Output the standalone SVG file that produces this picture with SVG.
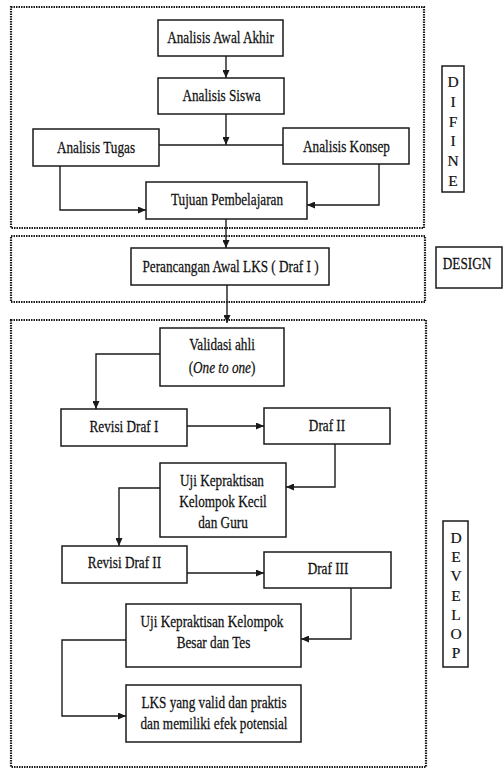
<svg xmlns="http://www.w3.org/2000/svg" width="504" height="769" viewBox="0 0 504 769">
<style>
  .bg { fill: #ffffff; }
  .sec { fill: none; stroke: #1a1a1a; stroke-width: 2.2; stroke-dasharray: 1.5 1; }
  .box { fill: #ffffff; stroke: #1a1a1a; stroke-width: 1.5; }
  .lbl { fill: none; stroke: #1a1a1a; stroke-width: 1.5; }
  .t { font-family: "Liberation Serif", "DejaVu Serif", serif; font-size: 16.5px; fill: #111111; stroke: #111111; stroke-width: 0.25; text-anchor: middle; }
  .v { font-family: "Liberation Serif", "DejaVu Serif", serif; font-size: 15.5px; fill: #111111; stroke: #111111; stroke-width: 0.2; text-anchor: middle; }
  .c { fill: none; stroke: #1a1a1a; stroke-width: 1.4; }
  .ca { fill: none; stroke: #1a1a1a; stroke-width: 1.4; marker-end: url(#arr); }
</style>
<defs>
  <marker id="arr" markerUnits="userSpaceOnUse" markerWidth="8" markerHeight="7" refX="8" refY="3.5" orient="auto">
    <path d="M0,0 L8,3.5 L0,7 z" fill="#1a1a1a"/>
  </marker>
</defs>
<rect class="bg" x="0" y="0" width="504" height="769"/>

<g id="sections">
  <rect id="sec-define" class="sec" x="11" y="7" width="413" height="221"/>
  <rect id="sec-design" class="sec" x="11" y="236" width="414" height="66"/>
  <rect id="sec-develop" class="sec" x="11" y="320" width="415" height="447"/>
</g>

<g id="connectors">
  <path class="ca" d="M226,56 V78"/>
  <path class="ca" d="M226,114 V145"/>
  <path class="c" d="M159,145 H283"/>
  <path class="ca" d="M60,166 V210 H146"/>
  <path class="ca" d="M379,164 V205 H307"/>
  <path class="ca" d="M226,219 V248"/>
  <path class="ca" d="M227,285 V323"/>
  <path class="ca" d="M160,354 H96 V409"/>
  <path class="ca" d="M187,426 H264"/>
  <path class="ca" d="M335,444 V487 H286"/>
  <path class="ca" d="M160,488 H119 V546"/>
  <path class="ca" d="M187,573 H264"/>
  <path class="ca" d="M351,588 V639 H301"/>
  <path class="ca" d="M126,640 H62 V716 H126"/>
</g>

<g id="analisis-awal-akhir">
  <rect class="box" x="158" y="20" width="125" height="36"/>
  <text class="t" transform="translate(220.5,43) scale(0.8,1)">Analisis Awal Akhir</text>
</g>
<g id="analisis-siswa">
  <rect class="box" x="158" y="78" width="126" height="36"/>
  <text class="t" transform="translate(221.5,101) scale(0.8,1)">Analisis Siswa</text>
</g>
<g id="analisis-tugas">
  <rect class="box" x="33" y="129" width="126" height="37"/>
  <text class="t" transform="translate(96,153) scale(0.8,1)">Analisis Tugas</text>
</g>
<g id="analisis-konsep">
  <rect class="box" x="283" y="128" width="126" height="36"/>
  <text class="t" transform="translate(346.5,152) scale(0.8,1)">Analisis Konsep</text>
</g>
<g id="tujuan-pembelajaran">
  <rect class="box" x="146" y="182" width="161" height="37"/>
  <text class="t" transform="translate(227,205) scale(0.8,1)">Tujuan Pembelajaran</text>
</g>
<g id="difine-label">
  <rect class="lbl" x="442" y="66" width="22" height="126"/>
  <text class="v" x="453" y="87">D</text>
  <text class="v" x="453" y="107">I</text>
  <text class="v" x="453" y="127">F</text>
  <text class="v" x="453" y="146">I</text>
  <text class="v" x="453" y="166">N</text>
  <text class="v" x="453" y="186">E</text>
</g>

<g id="perancangan-awal-lks">
  <rect class="box" x="131" y="248" width="198" height="37"/>
  <text class="t" transform="translate(230.5,272) scale(0.8,1)">Perancangan Awal LKS ( Draf I )</text>
</g>
<g id="design-label">
  <rect class="lbl" x="436" y="247" width="66" height="41"/>
  <text class="t" font-size="15" transform="translate(467,269) scale(0.8,1)">DESIGN</text>
</g>

<g id="validasi-ahli">
  <rect class="box" x="160" y="328" width="124" height="58"/>
  <text class="t" transform="translate(222,350) scale(0.8,1)">Validasi ahli</text>
  <text class="t" transform="translate(222,373) scale(0.8,1)">(<tspan font-style="italic">One to one</tspan>)</text>
</g>
<g id="revisi-draf-1">
  <rect class="box" x="61" y="409" width="126" height="37"/>
  <text class="t" transform="translate(124,432) scale(0.8,1)">Revisi Draf I</text>
</g>
<g id="draf-2">
  <rect class="box" x="264" y="408" width="126" height="36"/>
  <text class="t" transform="translate(327,431) scale(0.8,1)">Draf II</text>
</g>
<g id="uji-kelompok-kecil">
  <rect class="box" x="160" y="463" width="126" height="74"/>
  <text class="t" transform="translate(222,486) scale(0.8,1)">Uji Kepraktisan</text>
  <text class="t" transform="translate(223,507) scale(0.8,1)">Kelompok Kecil</text>
  <text class="t" transform="translate(223,528) scale(0.8,1)">dan Guru</text>
</g>
<g id="revisi-draf-2">
  <rect class="box" x="62" y="546" width="125" height="37"/>
  <text class="t" transform="translate(124.5,568) scale(0.8,1)">Revisi Draf II</text>
</g>
<g id="draf-3">
  <rect class="box" x="264" y="552" width="127" height="36"/>
  <text class="t" transform="translate(328,574) scale(0.8,1)">Draf III</text>
</g>
<g id="uji-kelompok-besar">
  <rect class="box" x="126" y="604" width="175" height="63"/>
  <text class="t" transform="translate(212,627) scale(0.8,1)">Uji Kepraktisan Kelompok</text>
  <text class="t" transform="translate(213.5,648) scale(0.8,1)">Besar dan Tes</text>
</g>
<g id="lks-valid-praktis">
  <rect class="box" x="126" y="685" width="175" height="57"/>
  <text class="t" transform="translate(214,708) scale(0.8,1)">LKS yang valid dan praktis</text>
  <text class="t" transform="translate(214,729) scale(0.8,1)">dan memiliki efek potensial</text>
</g>
<g id="develop-label">
  <rect class="lbl" x="443" y="521" width="25" height="146"/>
  <text class="v" x="456" y="543">D</text>
  <text class="v" x="456" y="562">E</text>
  <text class="v" x="456" y="581">V</text>
  <text class="v" x="456" y="601">E</text>
  <text class="v" x="456" y="620">L</text>
  <text class="v" x="456" y="639">O</text>
  <text class="v" x="456" y="658">P</text>
</g>
</svg>
